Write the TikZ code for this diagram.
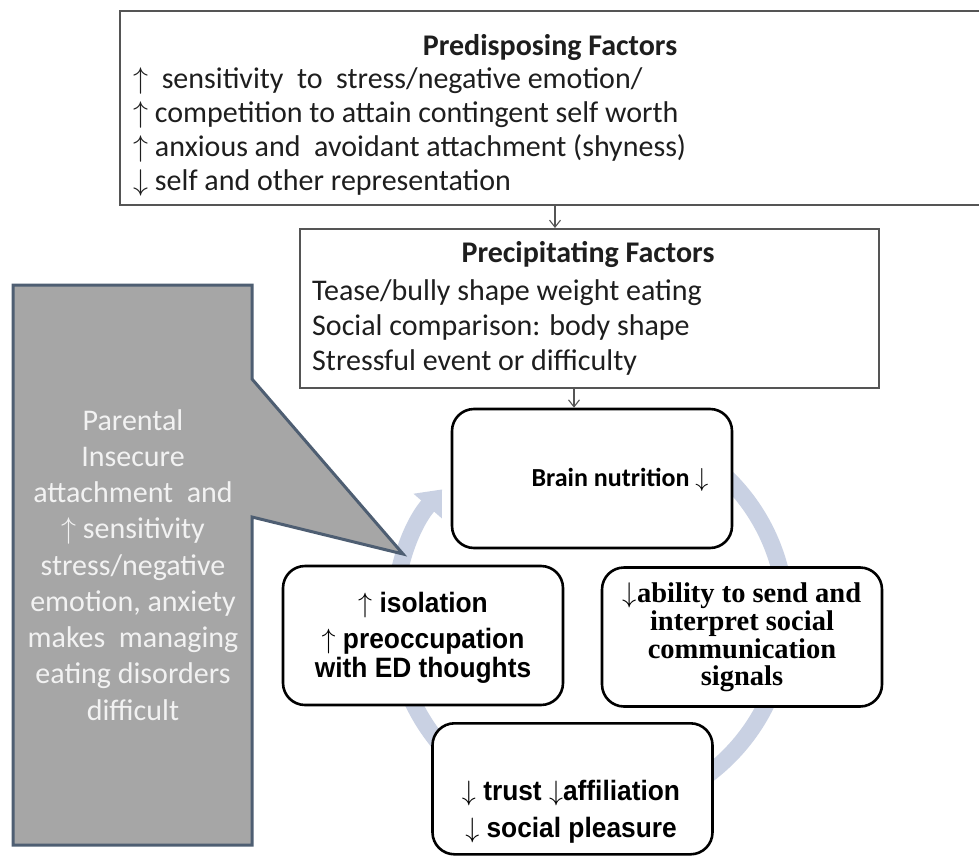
\RequirePackage{fix-cm}
\documentclass[tikz,border=0pt]{standalone}
\usepackage{fontspec}
\setmainfont{Carlito}
\newfontfamily\lsans{Liberation Sans}[FakeStretch=0.94]
\newfontfamily\lserif{Liberation Serif}
\usetikzlibrary{arrows.meta}
\definecolor{boxgray}{RGB}{85,85,85}
\definecolor{txt}{RGB}{30,30,30}
\definecolor{ringc}{RGB}{201,209,227}
\definecolor{callfill}{RGB}{166,166,166}
\definecolor{callline}{RGB}{78,94,114}
\definecolor{callwhite}{RGB}{242,242,242}
\begin{document}
\begin{tikzpicture}[x=1pt,y=-1pt,
  sqbox/.style={draw=boxgray, line width=1.6pt, fill=white, inner sep=0pt},
  cyc/.style={draw=black, line width=2.6pt, fill=white, rounded corners=22pt,
    inner sep=0pt, minimum width=280pt, minimum height=139pt},
  conn/.style={draw=boxgray, line width=1.1pt, -{Straight Barb[length=7pt,width=11pt]}},
  toptxt/.style={text=txt, font=\fontsize{30}{34}\selectfont, inner sep=0pt, anchor=base west},
  toptitle/.style={text=txt, font=\bfseries\fontsize{30}{34}\selectfont, inner sep=0pt, anchor=base},
  calltxt/.style={text=callwhite, font=\fontsize{30}{36}\selectfont, inner sep=0pt, anchor=base},
  isotxt/.style={text=black, font=\lsans\bfseries\fontsize{28}{30}\selectfont, inner sep=0pt, anchor=base},
  abltxt/.style={text=black, font=\lserif\bfseries\fontsize{28.5}{30}\selectfont, inner sep=0pt, anchor=base},
  braintxt/.style={text=black, font=\bfseries\fontsize{26}{30}\selectfont, inner sep=0pt, anchor=base}
]
\useasboundingbox (0,0) rectangle (979,856);
\clip (0,0) rectangle (979,856);
\fill[white] (0,0) rectangle (979,856);

% cycle ring with arrow head
\draw[ringc, line width=17pt, -{Triangle[length=22pt,width=36pt]}]
  (590,618) ++(270:196) arc[start angle=270, end angle=581, radius=196];

% callout
\draw[callline, line width=3pt, fill=callfill, line join=miter]
  (13,285) -- (252,285) -- (252,379) -- (403,554) -- (252,517) -- (252,845) -- (13,845) -- cycle;
\foreach \t [count=\i] in {Parental, Insecure, {attachment\ \ and}, {$\uparrow$ sensitivity},
  stress/negative, {emotion, anxiety}, {makes\ \ managing}, {eating disorders}, difficult}
  \node[calltxt] (cl\i) at (133,{430+36.25*(\i-1)}) {\t};

% predisposing box
\node[sqbox, minimum width=880pt, minimum height=194pt, anchor=north west] (pre) at (119,10) {};
\node[toptitle] (pret) at (550,56) {Predisposing Factors};
\node[toptxt] (pre1) at (133,89) {$\uparrow$\ \ sensitivity\ \ to\ \ stress/negative emotion/};
\node[toptxt] (pre2) at (133,122) {$\uparrow$ competition to attain contingent self worth};
\node[toptxt] (pre3) at (133,156) {$\uparrow$ anxious and\ \ avoidant attachment (shyness)};
\node[toptxt] (pre4) at (133,190) {$\downarrow$ self and other representation};

% precipitating box
\node[sqbox, minimum width=579pt, minimum height=159pt, anchor=north west] (prec) at (299,228) {};
\node[toptitle] (prect) at (588,262) {Precipitating Factors};
\node[toptxt] (prec1) at (312,300) {Tease/bully shape weight eating};
\node[toptxt] (prec2) at (312,335) {Social comparison: body shape};
\node[toptxt] (prec3) at (312,370) {Stressful event or difficulty};

% cycle boxes
\node[cyc] (brain) at (592,478.5) {};
\node[braintxt] (braint) at (620,486) {Brain nutrition $\downarrow$};

\node[cyc] (iso) at (423,635.5) {};
\node[isotxt] (iso1) at (423,612) {$\uparrow$ isolation};
\node[isotxt] (iso2) at (423,648) {$\uparrow$ preoccupation};
\node[isotxt] (iso3) at (423,677) {with ED thoughts};

\node[cyc] (abl) at (742,637) {};
\node[abltxt] (abl1) at (742,602) {$\downarrow$ability to send and};
\node[abltxt] (abl2) at (742,630) {interpret social};
\node[abltxt] (abl3) at (742,658) {communication};
\node[abltxt] (abl4) at (742,685) {signals};

\node[cyc, minimum height=131pt, anchor=north] (bot) at (572.5,722) {};
\node[isotxt] (bot1) at (571,800) {$\downarrow$ trust $\downarrow$affiliation};
\node[isotxt] (bot2) at (571,837) {$\downarrow$ social pleasure};

% connectors
\coordinate (c1) at (555,0);
\coordinate (c2) at (574,0);
\draw[conn] (pre.south -| c1) -- (prec.north -| c1);
\draw[conn] (prec.south -| c2) -- (brain.north -| c2);
\end{tikzpicture}
\end{document}
